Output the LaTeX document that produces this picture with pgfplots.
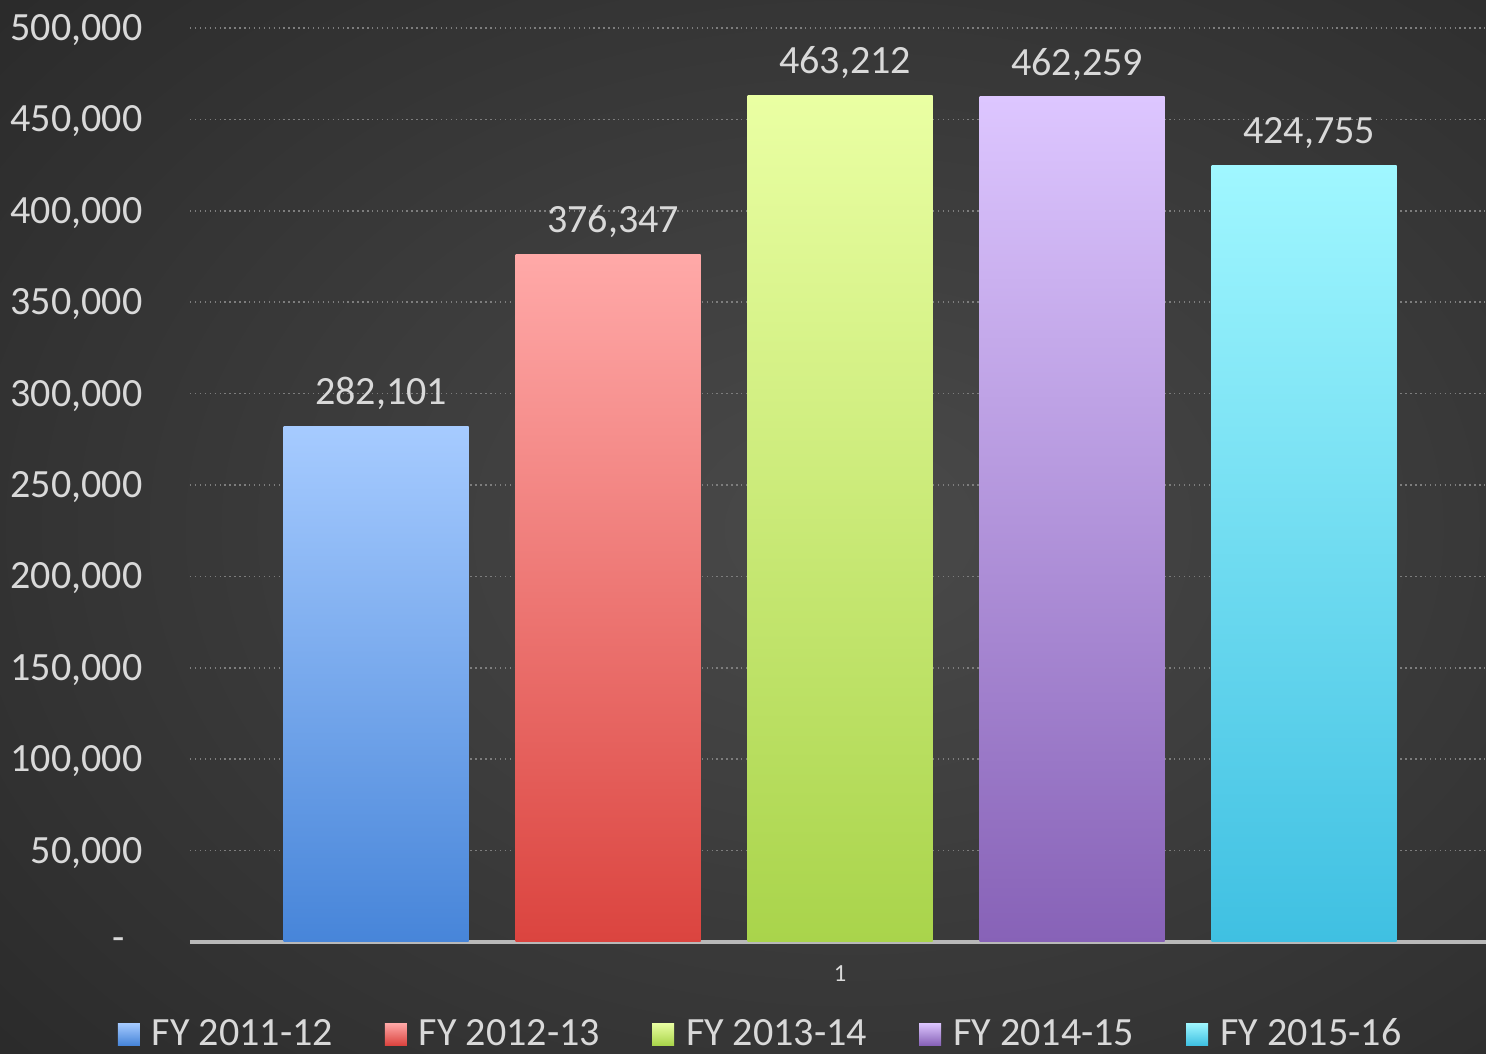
\documentclass[border=0pt]{standalone}
\usepackage{pgfplots}
\pgfplotsset{compat=1.18}
\usepackage{fontspec}
\setmainfont{Carlito}
\definecolor{txt}{HTML}{D9D9D9}
\definecolor{bgin}{HTML}{4A4A4A}
\definecolor{bgout}{HTML}{2A2A2A}
\definecolor{b1t}{HTML}{A6CBFF}\definecolor{b1b}{HTML}{4785D9}
\definecolor{r1t}{HTML}{FFA9A8}\definecolor{r1b}{HTML}{DB443F}
\definecolor{g1t}{HTML}{EAFFA3}\definecolor{g1b}{HTML}{A9D44B}
\definecolor{p1t}{HTML}{DDC6FF}\definecolor{p1b}{HTML}{8762B7}
\definecolor{c1t}{HTML}{A0F7FF}\definecolor{c1b}{HTML}{3FC0E2}
\begin{document}
\begin{tikzpicture}
\useasboundingbox (0,0) rectangle (14.86,10.54);
\shade[inner color=bgin, outer color=bgout] (-3,-3) rectangle (20,13.5);
\begin{axis}[
  at={(1.90cm,1.12cm)}, anchor=south west,
  scale only axis, width=12.96cm, height=9.14cm,
  xmin=-2.802, xmax=2.784, ymin=0, ymax=500000,
  scaled y ticks=false, scaled x ticks=false,
  axis x line*=bottom, axis y line*=left,
  x axis line style={-, draw={rgb,255:red,185;green,185;blue,185}, line width=1.2pt},
  y axis line style={draw=none},
  major tick length=0pt,
  xtick={0}, xticklabels={1},
  xticklabel style={font=\fontsize{7}{8}\selectfont, text=txt, inner sep=0pt, anchor=north, yshift=-0.23cm},
  ytick={0,50000,100000,150000,200000,250000,300000,350000,400000,450000,500000},
  yticklabels={{\makebox[0.30cm][l]{-}},{50,000},{100,000},{150,000},{200,000},{250,000},{300,000},{350,000},{400,000},{450,000},{500,000}},
  yticklabel style={font=\fontsize{11.4}{12}\selectfont, text=txt, inner sep=0pt, anchor=east, xshift=-0.47cm, yshift=-0.02cm},
  ymajorgrids, grid style={densely dotted, draw={rgb,255:red,125;green,125;blue,125}, line width=0.5pt},
  nodes near coords,
  every node near coord/.append style={font=\fontsize{11.4}{12}\selectfont, text=txt, anchor=south, inner sep=0pt, yshift=0.16cm, xshift=0.05cm},
  /pgf/number format/.cd, fixed, 1000 sep={,}, assume math mode=true, /pgfplots/.cd,
  legend columns=5,
  legend style={at={(0.4395,-0.1018)}, anchor=center, draw=none, fill=none, text=txt,
    font=\fontsize{11.4}{12}\selectfont, nodes={inner sep=0pt},
    /tikz/every odd column/.append style={column sep=0.12cm},
    /tikz/every even column/.append style={column sep=0.52cm}},
  legend image code/.code={\path[#1,/tikz/.cd,draw=none] (0cm,-0.10cm) rectangle (0.22cm,0.12cm);},
]
\addplot[ybar, bar width=1.85cm, bar shift=0pt, draw=none, top color=b1t, bottom color=b1b] coordinates {(-2,282101)};
\addlegendentry{FY 2011-12}
\addplot[ybar, bar width=1.85cm, bar shift=0pt, draw=none, top color=r1t, bottom color=r1b] coordinates {(-1,376347)};
\addlegendentry{FY 2012-13}
\addplot[ybar, bar width=1.85cm, bar shift=0pt, draw=none, top color=g1t, bottom color=g1b] coordinates {(0,463212)};
\addlegendentry{FY 2013-14}
\addplot[ybar, bar width=1.85cm, bar shift=0pt, draw=none, top color=p1t, bottom color=p1b] coordinates {(1,462259)};
\addlegendentry{FY 2014-15}
\addplot[ybar, bar width=1.85cm, bar shift=0pt, draw=none, top color=c1t, bottom color=c1b] coordinates {(2,424755)};
\addlegendentry{FY 2015-16}
\end{axis}
\end{tikzpicture}
\end{document}
